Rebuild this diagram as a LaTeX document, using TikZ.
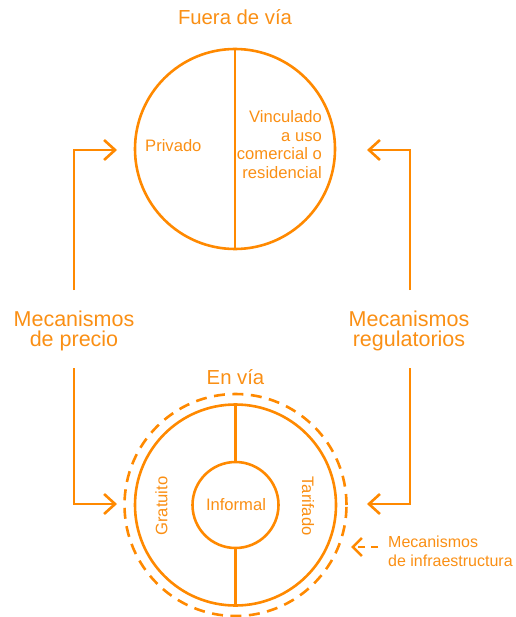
\documentclass[tikz,border=0pt]{standalone}
\usepackage{fontspec}
\setmainfont{Liberation Sans}
\usetikzlibrary{arrows.meta}
\definecolor{org}{RGB}{255,137,0}
\definecolor{orgtxt}{RGB}{250,143,20}
\tikzset{
  ring/.style={circle,draw=org,line width=2.6pt,inner sep=0pt},
  conn/.style={draw=org,line width=2.6pt},
  flow/.style={conn,line join=miter,-{Straight Barb[length=11pt,width=20pt]}},
  bigtxt/.style={text=orgtxt,font=\fontsize{20.3}{20}\selectfont,inner sep=0pt},
  sidetxt/.style={text=orgtxt,font=\fontsize{21.5}{20}\selectfont,inner sep=0pt},
  smalltxt/.style={text=orgtxt,font=\fontsize{16.6}{18.5}\selectfont,inner sep=0pt},
  infotxt/.style={text=orgtxt,font=\fontsize{16}{19}\selectfont,inner sep=0pt},
}
\begin{document}
\begin{tikzpicture}[x=1pt,y=-1pt]
\useasboundingbox (0,0) rectangle (515,617);
% top circle
\node[ring,minimum size=200pt] (top) at (235,149) {};
\draw[conn] (top.north) -- (top.south);
\node[bigtxt,anchor=base] (fuera) at (235,25) {Fuera de vía};
\node[smalltxt,anchor=base west] (priv) at (145,151.7) {Privado};
\node[smalltxt,align=right,anchor=east] (vinc) at (322,144.6) {Vinculado\\a uso\\comercial o\\residencial};
% bottom circles
\node[ring,minimum size=222pt,dash pattern=on 11pt off 7.5pt] (dash) at (235.5,505) {};
\node[ring,minimum size=201pt] (mid) at (235.5,505) {};
\node[ring,minimum size=86pt] (inner) at (235.5,505) {};
\draw[conn] (mid.north) -- (inner.north);
\draw[conn] (inner.south) -- (mid.south);
\node[bigtxt,anchor=base] (envia) at (235.5,384) {En vía};
\node[smalltxt,anchor=base] (inf) at (236,510.7) {Informal};
\node[smalltxt,anchor=base,rotate=90] (grat) at (167.3,506) {Gratuito};
\node[smalltxt,anchor=base,rotate=-90] (tarif) at (302,506) {Tarifado};
% side labels
\node[sidetxt,align=center] (precio) at (74,331) {Mecanismos\\de precio};
\node[sidetxt,align=center] (regul) at (409,331) {Mecanismos\\regulatorios};
\node[infotxt,align=left,anchor=west] (infra) at (388,551.5) {Mecanismos\\de infraestructura};
% connectors
\coordinate (lt0) at (74,290);
\coordinate (lt1) at (74,150);
\coordinate (lt2) at (117,150);
\coordinate (lb0) at (74,368);
\coordinate (lb1) at (74,504);
\coordinate (lb2) at (117,504);
\coordinate (rt0) at (410,290);
\coordinate (rt1) at (410,150);
\coordinate (rt2) at (367,150);
\coordinate (rb0) at (410,368);
\coordinate (rb1) at (410,504);
\coordinate (rb2) at (367,504);
\draw[flow] (lt0) -- (lt1) -- (lt2);
\draw[flow] (lb0) -- (lb1) -- (lb2);
\draw[flow] (rt0) -- (rt1) -- (rt2);
\draw[flow] (rb0) -- (rb1) -- (rb2);
\coordinate (ia0) at (378,547);
\coordinate (ia1) at (351,547);
\draw[conn,dash pattern=on 7pt off 6pt,-{Straight Barb[length=9pt,width=18pt]}] (ia0) -- (ia1);
\end{tikzpicture}
\end{document}
